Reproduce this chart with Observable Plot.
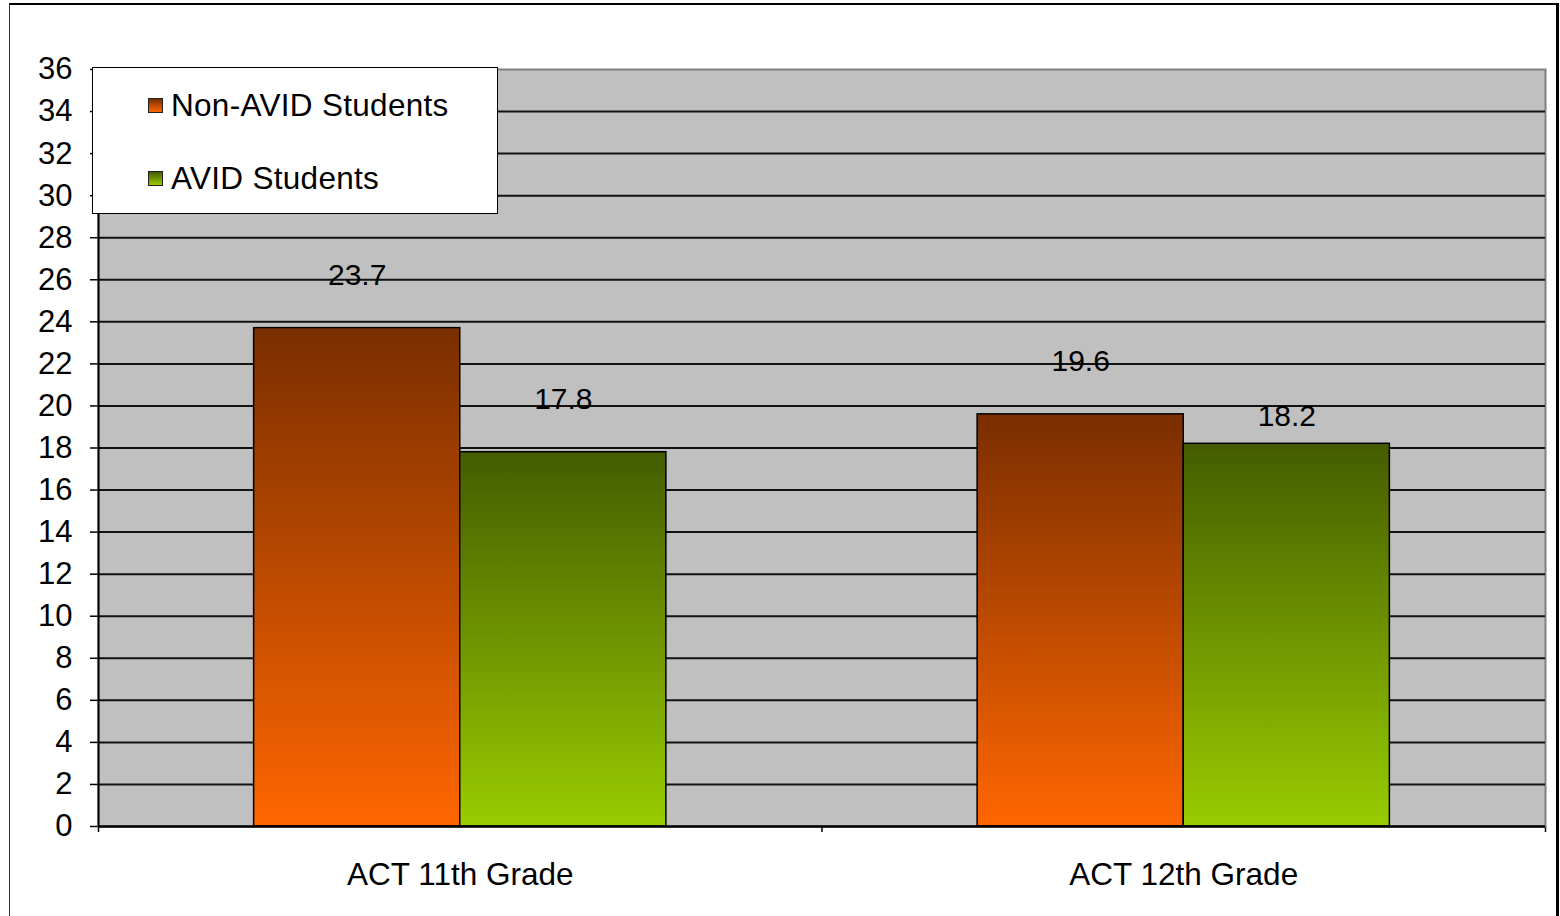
<!DOCTYPE html>
<html>
<head>
<meta charset="utf-8">
<script src="https://cdn.jsdelivr.net/npm/d3@7"></script>
<script src="https://cdn.jsdelivr.net/npm/@observablehq/plot@0.6"></script>
<style>
  html, body { margin: 0; padding: 0; background: #fff; }
  body { width: 1560px; height: 916px; position: relative; overflow: hidden; font-family: "Liberation Sans", Arial, sans-serif; }
  #frame { position: absolute; left: 9px; top: 3px; width: 1550px; height: 940px; border: 2px solid #000; border-right-width: 3px; border-left-width: 1px; border-left-color: #333; box-sizing: border-box; pointer-events: none; }
  #chart { position: absolute; left: 0; top: 0; }
  #legend { position: absolute; left: 92px; top: 67px; width: 406px; height: 147px; box-sizing: border-box; background: #fff; border: 1.5px solid #000; }
  .item { position: absolute; left: 55px; height: 36px; display: flex; align-items: center; font-size: 31.5px; color: #000; letter-spacing: 0.3px; }
  .sw { width: 13px; height: 13px; border: 1px solid #222; margin-right: 8px; }
</style>
</head>
<body>
<div id="chart"></div>
<div id="legend"></div>
<div id="frame"></div>
<script>
const categories = ["ACT 11th Grade", "ACT 12th Grade"];
const series = ["Non-AVID Students", "AVID Students"];
const nonAvidValues = [23.7, 19.6];
const avidValues = [17.8, 18.2];
const yTicks = [0, 2, 4, 6, 8, 10, 12, 14, 16, 18, 20, 22, 24, 26, 28, 30, 32, 34, 36];
const gridValues = [2, 4, 6, 8, 10, 12, 14, 16, 18, 20, 22, 24, 26, 28, 30, 32, 34];

const seriesValues = [nonAvidValues, avidValues];
const gradIds = ["gradOrange", "gradGreen"];
const rows = [];
categories.forEach((c, ci) => {
  series.forEach((s, si) => {
    rows.push({category: c, ci, series: s, si, value: seriesValues[si][ci]});
  });
});

// inner band positions of the series within each category slot
const inner = d3.scaleBand().domain(series).range([0, 1]).paddingInner(0).paddingOuter(0.755);
rows.forEach(d => { d.x1 = d.ci + inner(d.series); d.x2 = d.x1 + inner.bandwidth(); });

// the one data label that sits closer to its bar in the original
const isCloseLabel = d => d.ci === 1 && d.si === 1;

const font = '"Liberation Sans", Arial, sans-serif';
const plot = Plot.plot({
  width: 1560,
  height: 916,
  marginLeft: 98,
  marginRight: 15,
  marginTop: 69,
  marginBottom: 90,
  style: {fontFamily: font, fontSize: "31px", color: "#000", background: "transparent", overflow: "visible"},
  x: {type: "linear", domain: [0, categories.length], ticks: [0, 1, 2], tickFormat: () => "", tickSize: 6, label: null},
  y: {domain: [0, 36], ticks: yTicks, tickSize: 8, tickPadding: 18, label: null, tickFormat: d => String(d)},
  marks: [
    Plot.frame({fill: "#c0c0c0", stroke: "#808080", strokeWidth: 2}),
    Plot.ruleY(gridValues, {stroke: "#111", strokeWidth: 2}),
    ...series.map((s, si) => Plot.rectY(rows.filter(d => d.si === si), {
      x1: "x1", x2: "x2", y1: 0, y2: "value",
      fill: `url(#${gradIds[si]})`, stroke: "#000", strokeWidth: 1.5
    })),
    Plot.ruleX([0], {y1: 0, y2: 36, stroke: "#000", strokeWidth: 2}),
    Plot.ruleY([0], {stroke: "#000", strokeWidth: 2.5}),
    Plot.text(rows.filter(d => !isCloseLabel(d)), {
      x: d => (d.x1 + d.x2) / 2, y: "value", text: d => d.value.toFixed(1),
      dy: -53, fontSize: 30, fill: "#000", fontFamily: font
    }),
    Plot.text(rows.filter(isCloseLabel), {
      x: d => (d.x1 + d.x2) / 2, y: "value", text: d => d.value.toFixed(1),
      dy: -27, fontSize: 30, fill: "#000", fontFamily: font
    }),
    Plot.text(categories, {
      x: (d, i) => i + 0.5, frameAnchor: "bottom", text: d => d,
      dy: 58, fontSize: 31.5, fill: "#000", fontFamily: font
    })
  ]
});

const defs = `
<linearGradient id="gradOrange" x1="0" y1="0" x2="0" y2="1">
  <stop offset="0" stop-color="#7a2e00"/>
  <stop offset="1" stop-color="#ff6600"/>
</linearGradient>
<linearGradient id="gradGreen" x1="0" y1="0" x2="0" y2="1">
  <stop offset="0" stop-color="#445c00"/>
  <stop offset="1" stop-color="#99cc00"/>
</linearGradient>`;
d3.select(plot).insert("defs", ":first-child").html(defs);
d3.select(plot).selectAll("g[aria-label='x-axis tick'] path, g[aria-label='y-axis tick'] path").attr("stroke", "#000").attr("stroke-width", 1.5);
document.getElementById("chart").appendChild(plot);

// legend
const legend = document.getElementById("legend");
const swatchFills = ["linear-gradient(#7a2e00, #ff6600)", "linear-gradient(#445c00, #99cc00)"];
const rowTops = [19, 92];
series.forEach((s, si) => {
  const it = document.createElement("div");
  it.className = "item";
  it.style.top = rowTops[si] + "px";
  const sw = document.createElement("span");
  sw.className = "sw";
  sw.style.background = swatchFills[si];
  const tx = document.createElement("span");
  tx.textContent = s;
  it.appendChild(sw);
  it.appendChild(tx);
  legend.appendChild(it);
});
</script>
</body>
</html>
